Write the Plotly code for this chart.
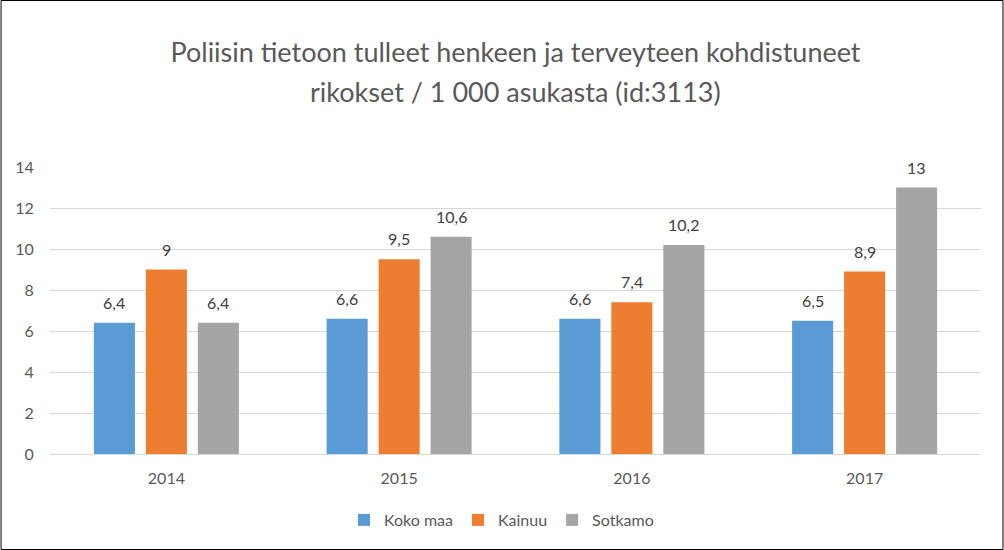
import plotly.graph_objects as go

years = ["2014", "2015", "2016", "2017"]
koko_maa = [6.4, 6.6, 6.6, 6.5]
kainuu = [9.0, 9.5, 7.4, 8.9]
sotkamo = [6.4, 10.6, 10.2, 13.0]
labels_koko = ["6,4", "6,6", "6,6", "6,5"]
labels_kainuu = ["9", "9,5", "7,4", "8,9"]
labels_sotkamo = ["6,4", "10,6", "10,2", "13"]
title_line1 = "Poliisin tietoon tulleet henkeen ja terveyteen kohdistuneet"
title_line2 = "rikokset / 1 000 asukasta (id:3113)"

FONT = "Lato"
series = [
    ("Koko maa", koko_maa, labels_koko, "#5b9bd5"),
    ("Kainuu", kainuu, labels_kainuu, "#ed7d31"),
    ("Sotkamo", sotkamo, labels_sotkamo, "#a5a5a5"),
]

L, R, T, B = 49.5, 22.5, 167, 96
W, H = 1004, 550
pw, ph = W - L - R, H - T - B
slot = 52  # px between bar centres within a group

fig = go.Figure()
for i, (name, vals, labs, col) in enumerate(series):
    fig.add_trace(go.Bar(
        x=years, y=vals, name=name, marker=dict(color=col, line=dict(width=0)),
        hoverinfo="skip",
    ))
    for j, (v, lab) in enumerate(zip(vals, labs)):
        fig.add_annotation(
            x=j, y=v, xref="x", yref="y", text=lab, showarrow=False,
            xanchor="center", yanchor="bottom", xshift=(i - 1) * slot, yshift=9,
            font=dict(family=FONT, size=16, color="#404040"),
        )

fig.add_annotation(
    x=0.5, y=(454 - 92) / ph, xref="paper", yref="paper", text=title_line2,
    showarrow=False, xanchor="center", yanchor="middle",
    font=dict(family=FONT, size=27, color="#595959"),
)

fig.update_layout(
    width=W, height=H,
    margin=dict(l=L, r=R, t=T, b=B, pad=0),
    paper_bgcolor="white", plot_bgcolor="white",
    barmode="group", bargap=0.33, bargroupgap=0.21,
    title=dict(
        text=title_line1,
        x=0.5, xref="paper", xanchor="center",
        y=1 - 53 / H, yref="container", yanchor="middle",
        font=dict(family=FONT, size=27, color="#595959"),
    ),
    showlegend=True,
    legend=dict(
        orientation="h", x=0.5 - 14 / pw, xanchor="center", y=(454 - 520) / ph, yanchor="middle",
        font=dict(family=FONT, size=16, color="#595959"),
        itemclick=False, itemdoubleclick=False,
    ),
    xaxis=dict(
        type="category",
        showgrid=False, showline=False, zeroline=False,
        ticks="outside", ticklen=10, tickcolor="rgba(0,0,0,0)",
        tickfont=dict(family=FONT, size=16, color="#595959"),
    ),
    yaxis=dict(
        range=[0, 14], dtick=2, showgrid=True, gridcolor="#d9d9d9", gridwidth=1,
        zeroline=True, zerolinecolor="#d9d9d9", zerolinewidth=1, showline=False,
        ticks="outside", ticklen=12, tickcolor="rgba(0,0,0,0)",
        tickfont=dict(family=FONT, size=16, color="#595959"),
    ),
)

fig.add_shape(
    type="rect", xref="paper", yref="paper",
    x0=(0.5 - L) / pw, x1=(W - 0.5 - L) / pw,
    y0=(454 - (H - 0.5)) / ph, y1=(454 - 0.5) / ph,
    line=dict(color="black", width=1), fillcolor="rgba(0,0,0,0)", layer="above",
)

fig.write_html(
    "out.html",
    config={"displayModeBar": False},
    post_script="document.body.style.margin='0';document.body.style.overflow='hidden';",
)
